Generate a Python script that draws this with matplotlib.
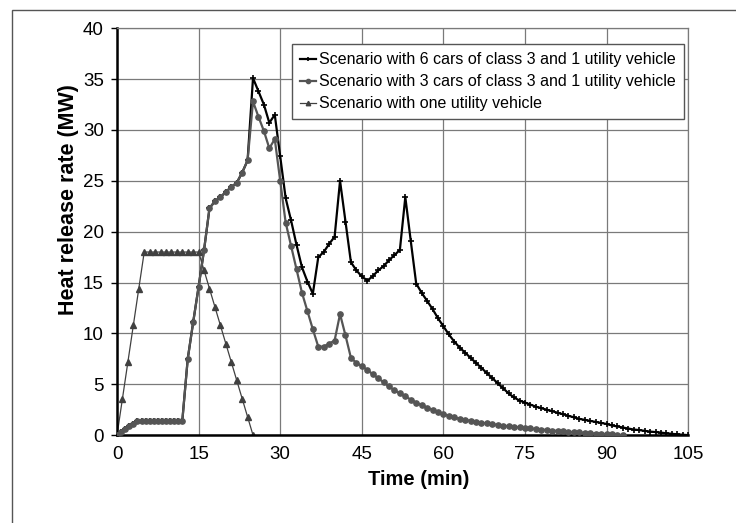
import numpy as np
import matplotlib
matplotlib.use("Agg")
import matplotlib.pyplot as plt
from matplotlib.patches import Rectangle

plt.rcParams['font.family'] = ['Liberation Sans', 'DejaVu Sans']

# Scenario with one utility vehicle (1 min steps, 0..25)
t_util = np.arange(0, 26)
hrr_util = [0, 3.6, 7.2, 10.8, 14.4, 18, 18, 18, 18, 18, 18, 18, 18, 18, 18, 18,
            16.2, 14.4, 12.6, 10.8, 9.0, 7.2, 5.4, 3.6, 1.8, 0]

# shared start of both car scenarios (0.75 min steps up to 12 min)
t_start = np.arange(0, 12.01, 0.75)
hrr_start = [0, 0.3, 0.6, 0.85, 1.1, 1.4, 1.4, 1.4, 1.4, 1.4, 1.4, 1.4, 1.4,
             1.4, 1.4, 1.4, 1.4]

# Scenario with 3 cars (1 min steps from 13 to 93)
t_3cars = np.arange(13, 94)
hrr_3cars = [7.5, 11.1, 14.6, 18.2, 22.3, 23.0, 23.4, 23.9, 24.4, 24.8, 25.8, 27.0,
             32.8, 31.3, 29.9, 28.2, 29.1, 25.0, 20.9, 18.6, 16.3, 14.0, 12.2, 10.4,
             8.7, 8.7, 9.0, 9.3, 11.9, 9.8, 7.6, 7.1, 6.8, 6.4, 6.0, 5.6, 5.2, 4.8,
             4.4, 4.1, 3.8, 3.5, 3.2, 2.95, 2.7, 2.5, 2.3, 2.1, 1.9, 1.75, 1.6, 1.5,
             1.4, 1.3, 1.22, 1.15, 1.08, 1.0, 0.93, 0.87, 0.81, 0.76, 0.71, 0.66,
             0.6, 0.55, 0.5, 0.45, 0.41, 0.37, 0.33, 0.29, 0.26, 0.22, 0.19, 0.16,
             0.13, 0.1, 0.07, 0.04, 0.0]

# Scenario with 6 cars (1 min steps from 13 to 105)
t_6cars = np.arange(13, 106)
hrr_6cars = [7.5, 11.1, 14.6, 18.2, 22.3, 23.0, 23.4, 23.9, 24.4, 24.8, 25.8, 27.0,
             35.1, 33.8, 32.5, 30.7, 31.5, 27.4, 23.3, 21.1, 18.7, 16.5, 15.1, 13.9,
             17.5, 18.0, 18.8, 19.5, 25.0, 21.0, 17.0, 16.2, 15.6, 15.2, 15.6, 16.2,
             16.6, 17.2, 17.7, 18.2, 23.4, 19.1, 14.9, 14.0, 13.2, 12.4, 11.5, 10.7,
             9.9, 9.2, 8.6, 8.1, 7.6, 7.1, 6.6, 6.1, 5.6, 5.1, 4.6, 4.1, 3.7, 3.4,
             3.2, 3.0, 2.8, 2.65, 2.5, 2.35, 2.2, 2.05, 1.9, 1.75, 1.6, 1.5, 1.4,
             1.3, 1.2, 1.1, 0.95, 0.85, 0.75, 0.65, 0.55, 0.5, 0.42, 0.35, 0.3,
             0.25, 0.18, 0.13, 0.08, 0.04, 0.0]

labels = ["Scenario with 6 cars of class 3 and 1 utility vehicle",
          "Scenario with 3 cars of class 3 and 1 utility vehicle",
          "Scenario with one utility vehicle"]

fig = plt.figure(figsize=(7.36, 5.23), dpi=100)
ax = fig.add_axes([0.159, 0.168, 0.776, 0.778])

x6 = np.concatenate([t_start, t_6cars])
y6 = np.concatenate([hrr_start, hrr_6cars])
x3 = np.concatenate([t_start, t_3cars])
y3 = np.concatenate([hrr_start, hrr_3cars])

ax.plot(x6, y6, color='black', lw=1.6, marker='+', ms=3.8, mew=1.2, label=labels[0], zorder=3)
ax.plot(x3, y3, color='#555555', lw=1.6, marker='o', ms=3.8, label=labels[1], zorder=4)
ax.plot(t_util, hrr_util, color='#404040', lw=0.9, marker='^', ms=4, label=labels[2], zorder=2)

ax.set_xlim(0, 105)
ax.set_ylim(0, 40)
ax.set_xticks(np.arange(0, 106, 15))
ax.set_yticks(np.arange(0, 41, 5))
ax.grid(True, color='#7a7a7a', lw=0.9)
ax.set_axisbelow(True)
ax.tick_params(labelsize=13.5, length=4, width=1)
ax.tick_params(axis='x', length=0, pad=8)
ax.tick_params(axis='y', pad=5.5)

for side in ['top', 'right']:
    ax.spines[side].set_color('#7a7a7a')
    ax.spines[side].set_linewidth(0.9)
for side in ['left', 'bottom']:
    ax.spines[side].set_linewidth(1.8)

ax.set_xlabel("Time (min)", fontsize=14.5, fontweight='bold')
ax.set_ylabel("Heat release rate (MW)", fontsize=15.5, fontweight='bold')
ax.xaxis.set_label_coords(0.529, -0.086)
ax.yaxis.set_label_coords(-0.066, 0.58)

leg = ax.legend(loc='upper right', bbox_to_anchor=(0.993, 0.961), fontsize=11.5,
                frameon=True, fancybox=False, edgecolor='#555555', framealpha=1,
                borderaxespad=0, handlelength=1.0, handletextpad=0.2,
                labelspacing=0.45, markerscale=0.8, borderpad=0.5)
leg.get_frame().set_linewidth(1.0)

# outer frame of the original figure
fig.patches.append(Rectangle((12 / 736, -0.1), 1.2, 1 - 10 / 523 + 0.1,
                             transform=fig.transFigure, fill=False,
                             edgecolor='#555555', lw=1.0))

fig.savefig("out.png", dpi=100)
